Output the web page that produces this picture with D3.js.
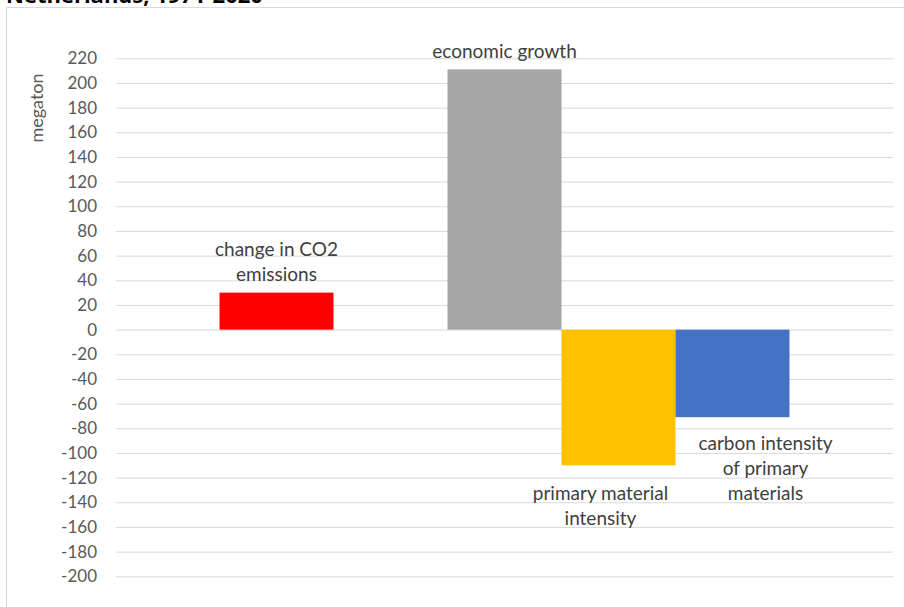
<!DOCTYPE html>
<html>
<head>
<meta charset="utf-8">
<script src="https://cdn.jsdelivr.net/npm/d3@7"></script>
<style>
  html, body { margin: 0; padding: 0; background: #fff; }
  svg { display: block; }
</style>
</head>
<body>
<script>
// Decomposition of the change in CO2 emissions (megaton)
const categories = ["change in CO2 emissions", "", "economic growth", "primary material intensity", "carbon intensity of primary materials"];
const values = [30, null, 211, -110, -71];
const colors = ["#ff0000", "none", "#a5a5a5", "#ffc000", "#4472c4"];
const labelLines = [["change in CO2", "emissions"], [], ["economic growth"], ["primary material", "intensity"], ["carbon intensity", "of primary", "materials"]];
const tickValues = d3.range(-200, 221, 20);

const W = 904, H = 607;
const svg = d3.select("body").append("svg").attr("width", W).attr("height", H);
const font = "Lato, 'Open Sans', sans-serif";

// chart title (partly above the visible area)
svg.append("text").attr("x", 6).attr("y", 3)
  .attr("font-family", "'Open Sans', sans-serif").attr("font-weight", "bold")
  .attr("font-size", 22).attr("fill", "#000")
  .text("Netherlands, 1971-2020");

// chart area frame
svg.append("rect").attr("x", 6.5).attr("y", 7.5).attr("width", W).attr("height", H)
  .attr("fill", "none").attr("stroke", "#d9d9d9");

const plot = { left: 116, right: 893, top: 58.3, bottom: 576.3 };
const y = d3.scaleLinear().domain([-200, 220]).range([plot.bottom, plot.top]);
const x = d3.scaleBand().domain(d3.range(categories.length))
  .range([plot.left, plot.right]).paddingInner(0).paddingOuter(0.908);

// gridlines + tick labels (plain hyphen for negatives)
const axis = d3.axisLeft(y).tickValues(tickValues).tickFormat(d => String(d))
  .tickSize(-(plot.right - plot.left)).tickPadding(19);
const g = svg.append("g").attr("transform", `translate(${plot.left},0)`).call(axis);
g.select(".domain").remove();
g.selectAll(".tick line").attr("stroke", "#d9d9d9").attr("stroke-width", 1);
g.selectAll(".tick text").attr("font-family", font).attr("font-size", 17).attr("fill", "#595959");

// axis title
svg.append("text")
  .attr("transform", `translate(37,108) rotate(-90)`)
  .attr("text-anchor", "middle").attr("dy", "0.35em")
  .attr("font-family", font).attr("font-size", 18).attr("fill", "#595959")
  .text("megaton");

// bars
const data = categories.map((c, i) => ({ c, i, v: values[i], color: colors[i], lines: labelLines[i] }));
svg.append("g").selectAll("rect").data(data.filter(d => d.v !== null)).join("rect")
  .attr("x", d => x(d.i)).attr("width", x.bandwidth())
  .attr("y", d => y(Math.max(0, d.v))).attr("height", d => Math.abs(y(d.v) - y(0)))
  .attr("fill", d => d.color);

// data labels, placed next to the bar ends
const labelOffsets = [{ dx: 0, dy: -18 }, null, { dx: 0, dy: -18 }, { dx: -18, dy: 28 }, { dx: 33, dy: 26 }];
const lineH = 25;
const lg = svg.append("g");
data.filter(d => d.v !== null).forEach(d => {
  const off = labelOffsets[d.i];
  const cx = x(d.i) + x.bandwidth() / 2 + off.dx;
  const end = y(d.v);
  d.lines.forEach((ln, k) => {
    let cy;
    if (d.v >= 0) cy = end + off.dy - (d.lines.length - 1 - k) * lineH;
    else cy = end + off.dy + k * lineH;
    lg.append("text").attr("x", cx).attr("y", cy).attr("dy", "0.35em")
      .attr("text-anchor", "middle").attr("font-family", font).attr("font-size", 19).attr("fill", "#404040")
      .text(ln);
  });
});
</script>
</body>
</html>
